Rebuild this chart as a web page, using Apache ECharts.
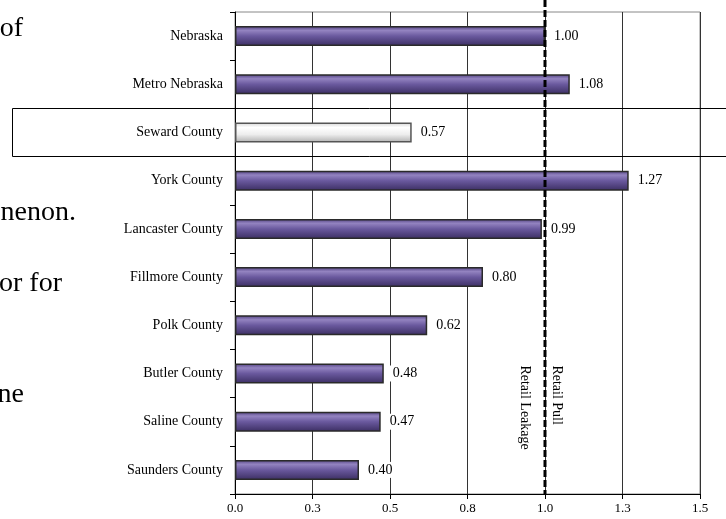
<!DOCTYPE html>
<html>
<head>
<meta charset="utf-8">
<script src="https://cdn.jsdelivr.net/npm/echarts@6/dist/echarts.min.js"></script>
<style>
html,body{margin:0;padding:0;background:#fff;}
#c{width:726px;height:519px;}
</style>
</head>
<body>
<div id="c"></div>
<script>
var categories = ['Nebraska','Metro Nebraska','Seward County','York County','Lancaster County','Fillmore County','Polk County','Butler County','Saline County','Saunders County'];
var values = [1.00, 1.08, 0.57, 1.27, 0.99, 0.80, 0.62, 0.48, 0.47, 0.40];
var highlighted = 'Seward County';
var tickLabels = ['0.0','0.3','0.5','0.8','1.0','1.3','1.5'];
var tickStep = 0.25;
var refValue = 1.0;
var refLabels = ['Retail Pull', 'Retail Leakage'];
var sideTexts = ['of', 'nenon.', 'or for', 'ne'];

var serif = '"Liberation Serif", "Times New Roman", serif';
var purple = new echarts.graphic.LinearGradient(0,0,0,1,[
  {offset:0, color:'#4f3f7f'},
  {offset:0.22, color:'#9383c0'},
  {offset:0.5, color:'#6a599e'},
  {offset:1, color:'#3b2e62'}
]);
var grey = new echarts.graphic.LinearGradient(0,0,0,1,[
  {offset:0, color:'#d4d4d4'},
  {offset:0.25, color:'#ffffff'},
  {offset:0.6, color:'#ededed'},
  {offset:1, color:'#b0b0b0'}
]);

var data = values.map(function(v,i){
  var hl = categories[i] === highlighted;
  return {value:v, itemStyle:{color: hl ? grey : purple, borderColor: hl ? '#555' : '#2a2a2a'}};
});

var chart = echarts.init(document.getElementById('c'), null, {renderer:'canvas'});
chart.setOption({
  animation:false,
  backgroundColor:'#fff',
  grid:{left:235, right:26, top:12, bottom:25, containLabel:false, show:true, borderColor:'#888', borderWidth:1},
  xAxis:{
    type:'value', min:0, max:1.5, interval:tickStep,
    axisLine:{show:true, lineStyle:{color:'#000', width:1}},
    axisTick:{show:true, length:5, lineStyle:{color:'#000'}},
    axisLabel:{fontFamily:serif, fontSize:13, color:'#000', margin:8,
      formatter:function(v){ return tickLabels[Math.round(v/tickStep)]; }},
    splitLine:{show:true, lineStyle:{color:'#333', width:1}}
  },
  yAxis:{
    type:'category', data:categories, inverse:true,
    axisLine:{show:true, lineStyle:{color:'#000', width:1}},
    axisTick:{show:true, length:5, lineStyle:{color:'#000'}},
    axisLabel:{fontFamily:serif, fontSize:14, color:'#000', margin:12},
    splitLine:{show:false}
  },
  series:[{
    type:'bar', data:data, barWidth:20,
    itemStyle:{borderWidth:1.5},
    label:{show:true, position:'right', distance:6, fontFamily:serif, fontSize:14, color:'#000',
      backgroundColor:'#fff', padding:[1,3],
      formatter:function(p){ return p.value.toFixed(2); }}
  }]
});

function addGraphics(){
  var xRef = chart.convertToPixel({xAxisIndex:0}, refValue);
  var yBottom = chart.convertToPixel({yAxisIndex:0}, categories[categories.length-1]);
  var y0 = chart.convertToPixel({yAxisIndex:0}, categories[0]);
  var y1 = chart.convertToPixel({yAxisIndex:0}, categories[1]);
  var band = y1 - y0;
  var axisBottom = yBottom + band/2;
  var hlIdx = categories.indexOf(highlighted);
  var yHl = chart.convertToPixel({yAxisIndex:0}, categories[hlIdx]);
  var y7 = chart.convertToPixel({yAxisIndex:0}, categories[7]);
  chart.setOption({graphic:[
    {type:'rect', shape:{x:12.5, y:Math.round(yHl - band/2)+0.5, width:800, height:Math.round(band)}, style:{fill:null, stroke:'#000', lineWidth:1}, z:50},
    {type:'line', shape:{x1:xRef, y1:0, x2:xRef, y2:axisBottom}, style:{stroke:'#000', lineWidth:3, lineDash:[7,3]}, z:60},
    {type:'text', x:xRef+12, y:y7 - band/2 + 16, rotation:-Math.PI/2, style:{text:refLabels[0], font:'14px '+serif, fill:'#000', align:'left', verticalAlign:'middle'}, z:60},
    {type:'text', x:xRef-20, y:y7 - band/2 + 16, rotation:-Math.PI/2, style:{text:refLabels[1], font:'14px '+serif, fill:'#000', align:'left', verticalAlign:'middle'}, z:60},
    {type:'text', x:23, y:29, style:{text:sideTexts[0], font:'28px '+serif, fill:'#000', align:'right', verticalAlign:'middle'}},
    {type:'text', x:76, y:213, style:{text:sideTexts[1], font:'28px '+serif, fill:'#000', align:'right', verticalAlign:'middle'}},
    {type:'text', x:62, y:284, style:{text:sideTexts[2], font:'28px '+serif, fill:'#000', align:'right', verticalAlign:'middle'}},
    {type:'text', x:24, y:395, style:{text:sideTexts[3], font:'28px '+serif, fill:'#000', align:'right', verticalAlign:'middle'}}
  ]});
}
addGraphics();
</script>
</body>
</html>
